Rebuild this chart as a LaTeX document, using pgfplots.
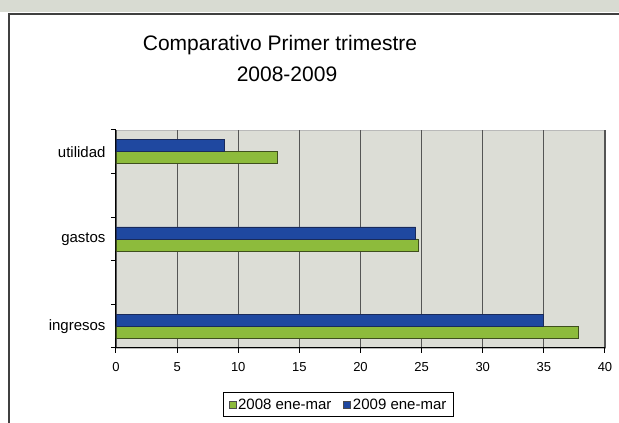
\documentclass[border=0pt]{standalone}
\usepackage{fontspec}
\setmainfont{Liberation Sans}
\usepackage{pgfplots}
\pgfplotsset{compat=1.18}
\definecolor{barA}{HTML}{8DBB3C}
\definecolor{barB}{HTML}{1F48A0}
\definecolor{edgeA}{HTML}{3F4F1E}
\definecolor{edgeB}{HTML}{1A2A5A}
\definecolor{plotbg}{HTML}{DCDDD6}
\definecolor{topstrip}{HTML}{D8DBD2}
\definecolor{gridc}{HTML}{555555}
\begin{document}
\begin{tikzpicture}
\useasboundingbox (0,0) rectangle (619pt,423pt);
\clip (0,0) rectangle (619pt,423pt);
\fill[white] (0,0) rectangle (619pt,423pt);
\fill[topstrip] (0,411pt) rectangle (619pt,423pt);
\draw[line width=2pt, black!75] (9pt,-10pt) -- (9pt,409pt) -- (640pt,409pt);
\node[font=\fontsize{21}{21}\selectfont] at (280pt,378pt) {Comparativo Primer trimestre};
\node[font=\fontsize{21}{21}\selectfont] at (287pt,349pt) {2008-2009};
\begin{axis}[
  at={(116pt,75pt)}, anchor=south west,
  scale only axis, width=489pt, height=218pt,
  xbar,
  bar width=12pt,
  xmin=0, xmax=40, xtick={0,5,...,40},
  ymin=-0.25, ymax=2.25,
  ytick={-0.25,0.25,...,2.25}, yticklabels={},
  extra y ticks={0,1,2},
  extra y tick labels={ingresos,gastos,utilidad},
  extra y tick style={major tick length=0pt, yticklabel style={font=\fontsize{15}{15}\selectfont, xshift=-7pt}},
  axis x line*=bottom, axis y line*=left,
  axis line style={-, black, line width=1pt},
  axis background/.style={fill=plotbg, draw=gray!55},
  tick align=outside,
  major tick length=5pt,
  tick style={black, line width=1pt},
  xmajorgrids, major x grid style={gridc, line width=1.2pt},
  ymajorgrids=false,
  /pgf/number format/assume math mode=true,
  xticklabel style={font=\fontsize{13}{13}\selectfont, yshift=-6pt},
  legend style={at={(0.455,-0.26)}, anchor=center, legend columns=2,
    draw=black, line width=0.8pt, font=\fontsize{15}{15}\selectfont,
    inner xsep=5pt, inner ysep=4pt,
    /tikz/every even column/.append style={column sep=10pt}},
  legend image code/.code={\filldraw[#1, draw=black!70, line width=0.5pt] (0pt,-3.5pt) rectangle (7pt,3.5pt);},
]
\addplot[fill=barA, draw=edgeA, line width=0.8pt, bar shift=-6pt] coordinates {(37.8,0) (24.7,1) (13.2,2)};
\addplot[fill=barB, draw=edgeB, line width=0.8pt, bar shift=6pt] coordinates {(35.0,0) (24.5,1) (8.9,2)};
\legend{2008 ene-mar, 2009 ene-mar}
\end{axis}
\end{tikzpicture}
\end{document}
